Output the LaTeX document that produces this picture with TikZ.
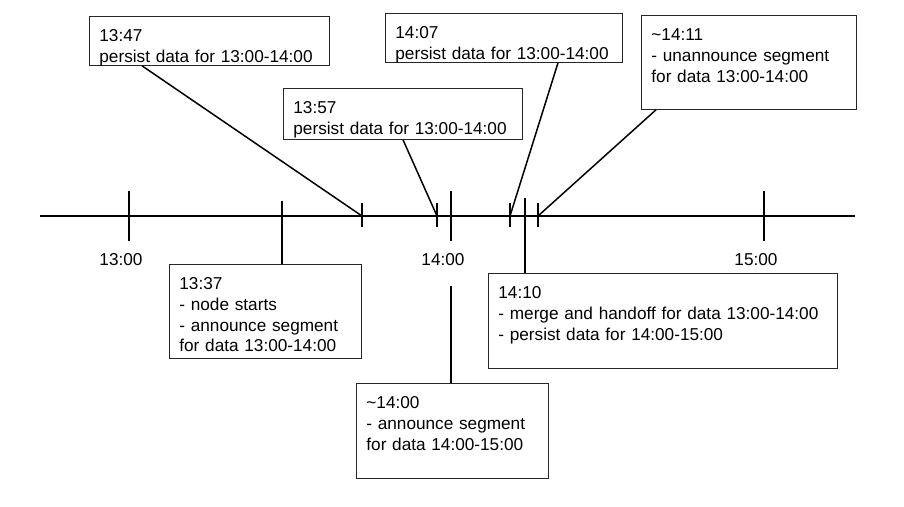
\documentclass[tikz,border=0pt]{standalone}
\usepackage{fontspec}
\setmainfont{Liberation Sans}
\usetikzlibrary{positioning}

\tikzset{
	note/.style={draw=black!85, line width=0.8pt, anchor=north west, align=left,
		inner xsep=10pt, inner ysep=0pt, text height=25pt,
		font=\fontsize{17.2}{20.8}\selectfont},
	hour/.style={font=\fontsize{17.2}{20.8}\selectfont},
	axis/.style={line width=1.5pt},
	link/.style={line width=1.5pt}
}

\begin{document}
\begin{tikzpicture}[x=1pt,y=-1pt]
	\useasboundingbox (0,0) rectangle (904,506);
	% time axis
	\draw[axis] (40,216) -- (855,216);
	\foreach \x/\t in {129/1300,451/1400,764/1500} {
		\draw[axis] (\x,191) -- (\x,241);
		\coordinate (h\t) at (\x,216);
	}
	\node[hour] (l1300) at (121,260) {13:00};
	\node[hour] (l1400) at (443,260) {14:00};
	\node[hour] (l1500) at (756,260) {15:00};
	% small marks above and below the axis
	\foreach \x/\t in {362/1347,437/1357,510/1407,538/1411} {
		\draw[axis] (\x,203) -- (\x,227);
		\coordinate (t\t) at (\x,216);
	}
	\coordinate (t1337) at (282,201);
	\coordinate (t1410) at (525,198);
	\coordinate (t1400) at (451,286);

	% notes
	\node[note, text width=220pt, text depth=24pt] (b1347) at (89,16)
		{13:47\\persist data for 13:00-14:00};
	\node[note, text width=219pt, text depth=26pt] (b1357) at (283,88)
		{13:57\\persist data for 13:00-14:00};
	\node[note, text width=217pt, text depth=24pt] (b1407) at (385,13)
		{14:07\\persist data for 13:00-14:00};
	\node[note, text width=195pt, text depth=69pt] (b1411) at (641,15)
		{\textasciitilde14:11\\- unannounce segment\\for data 13:00-14:00};
	\node[note, text width=172pt, text depth=69pt] (b1337) at (169,264)
		{13:37\\- node starts\\- announce segment\\for data 13:00-14:00};
	\node[note, text width=329pt, text depth=70pt] (b1410) at (488,273)
		{14:10\\- merge and handoff for data 13:00-14:00\\- persist data for 14:00-15:00};
	\node[note, text width=172pt, text depth=70pt] (b1400) at (356,383)
		{\textasciitilde14:00\\- announce segment\\for data 14:00-15:00};

	% connectors
	\draw[link] ([xshift=53pt]b1347.south west) -- (t1347);
	\draw[link] ([xshift=120pt]b1357.south west) -- (t1357);
	\draw[link] ([xshift=173pt]b1407.south west) -- (t1407);
	\draw[link] ([xshift=15pt]b1411.south west) -- (t1411);
	\draw[link] (t1337) -- ([xshift=113pt]b1337.north west);
	\draw[link] (t1410) -- ([xshift=37pt]b1410.north west);
	\draw[link] (t1400) -- ([xshift=95pt]b1400.north west);
\end{tikzpicture}
\end{document}
